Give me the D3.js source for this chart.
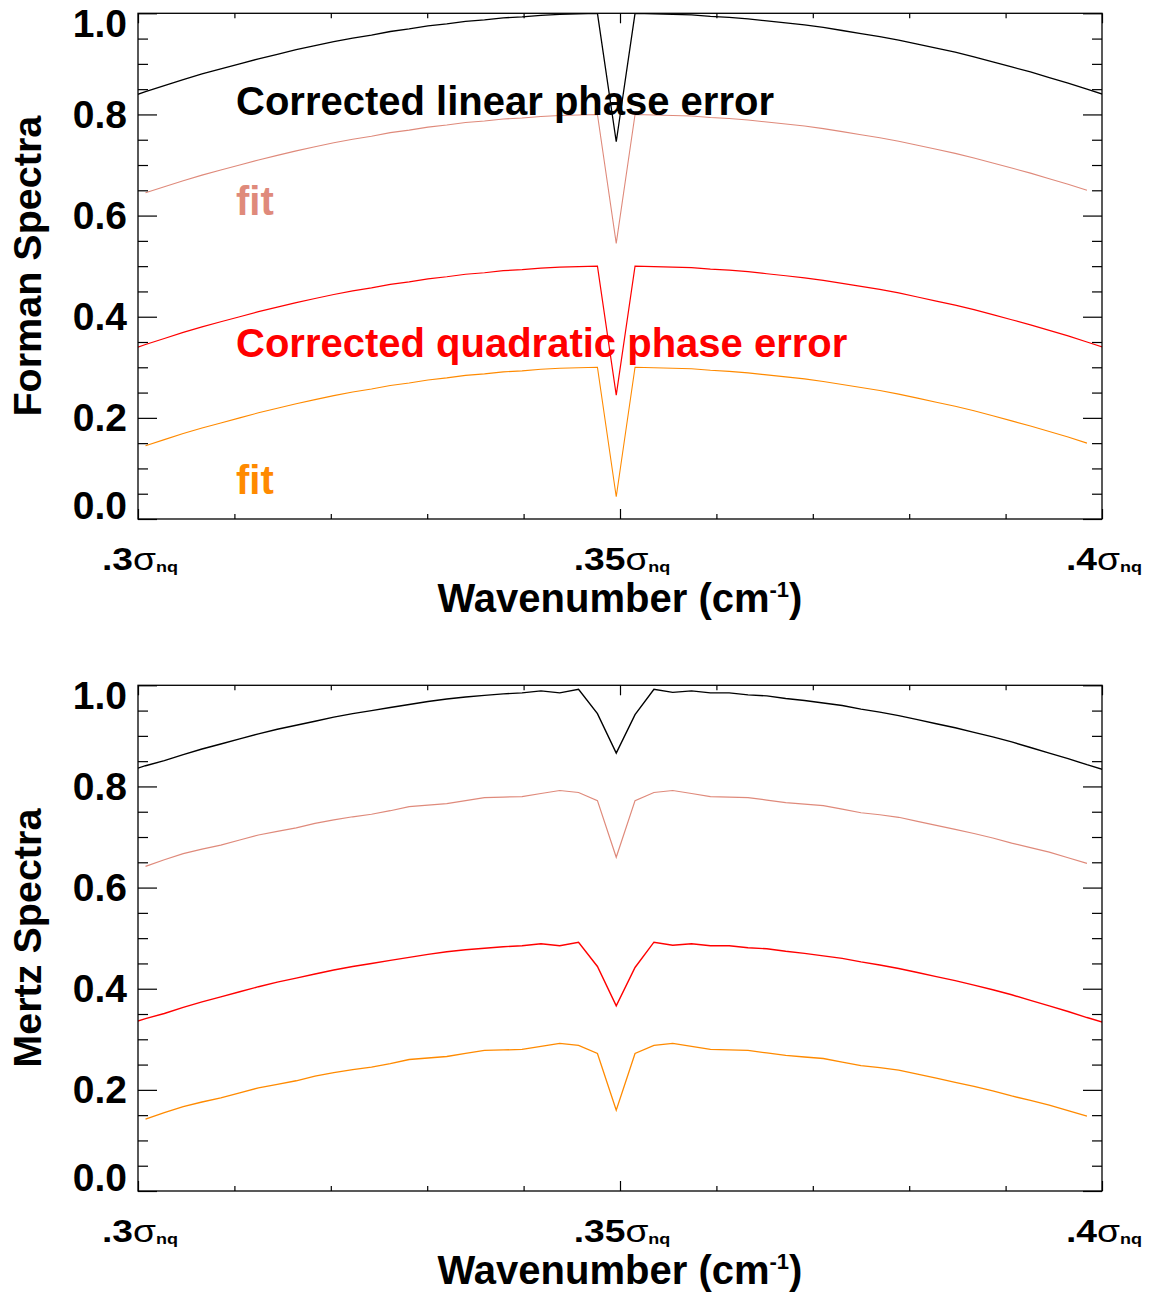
<!DOCTYPE html>
<html>
<head>
<meta charset="utf-8">
<script src="https://cdn.jsdelivr.net/npm/d3@7"></script>
<style>
  body { margin: 0; background: #fff; }
  svg { display: block; }
  text { font-family: "Liberation Sans", Arial, Helvetica, sans-serif; font-weight: bold; }
</style>
</head>
<body>
<svg id="chart" width="1155" height="1294"></svg>
<script>
// Spectral grid, in units of the Nyquist wavenumber (bins 153..205 of 512)
const wavenumber = [0.29883,0.30078,0.30273,0.30469,0.30664,0.30859,0.31055,0.3125,0.31445,0.31641,
  0.31836,0.32031,0.32227,0.32422,0.32617,0.32813,0.33008,0.33203,0.33398,0.33594,
  0.33789,0.33984,0.3418,0.34375,0.3457,0.34766,0.34961,0.35156,0.35352,0.35547,
  0.35742,0.35938,0.36133,0.36328,0.36523,0.36719,0.36914,0.37109,0.37305,0.375,
  0.37695,0.37891,0.38086,0.38281,0.38477,0.38672,0.38867,0.39063,0.39258,0.39453,
  0.39648,0.39844,0.40039];
// fits cover bins 154..204
const fitWavenumber = wavenumber.slice(1, 52);

// Forman method, corrected linear phase error (and its fit, offset down)
const formanLinear = [0.832,0.845,0.857,0.869,0.880,0.890,0.900,0.910,0.919,0.928,
  0.936,0.944,0.951,0.957,0.964,0.969,0.975,0.979,0.984,0.987,
  0.991,0.993,0.996,0.998,0.999,1.000,0.746,1.000,0.999,0.998,
  0.997,0.994,0.992,0.989,0.985,0.981,0.977,0.972,0.966,0.960,
  0.954,0.947,0.939,0.931,0.923,0.914,0.904,0.894,0.884,0.873,
  0.862,0.850,0.838];
const formanLinearFit = [0.645,0.657,0.669,0.680,0.690,0.700,0.710,0.719,0.728,0.736,
  0.744,0.751,0.757,0.764,0.769,0.775,0.779,0.784,0.787,0.791,
  0.793,0.796,0.798,0.799,0.800,0.545,0.800,0.799,0.798,0.797,
  0.794,0.792,0.789,0.785,0.781,0.777,0.772,0.766,0.760,0.754,
  0.747,0.739,0.731,0.723,0.714,0.704,0.694,0.684,0.673,0.662,
  0.650];
// Forman method, corrected quadratic phase error (and its fit)
const formanQuadratic = [0.332,0.345,0.357,0.369,0.380,0.390,0.400,0.410,0.419,0.428,
  0.436,0.444,0.451,0.457,0.464,0.469,0.475,0.479,0.484,0.487,
  0.491,0.493,0.496,0.498,0.499,0.500,0.245,0.500,0.499,0.498,
  0.497,0.494,0.492,0.489,0.485,0.481,0.477,0.472,0.466,0.460,
  0.454,0.447,0.439,0.431,0.423,0.414,0.404,0.394,0.384,0.373,
  0.362,0.350,0.338];
const formanQuadraticFit = [0.145,0.157,0.169,0.180,0.190,0.200,0.210,0.219,0.228,0.236,
  0.244,0.251,0.257,0.264,0.269,0.275,0.279,0.284,0.287,0.291,
  0.293,0.296,0.298,0.299,0.300,0.044,0.300,0.299,0.298,0.297,
  0.294,0.292,0.289,0.285,0.281,0.277,0.272,0.266,0.260,0.254,
  0.247,0.239,0.231,0.223,0.214,0.204,0.194,0.184,0.173,0.162,
  0.150];

// Mertz method, same four curves
const mertzLinear = [0.829,0.841,0.851,0.863,0.874,0.884,0.894,0.904,0.913,0.921,
  0.929,0.937,0.944,0.950,0.956,0.962,0.968,0.973,0.977,0.980,
  0.983,0.985,0.989,0.985,0.992,0.944,0.866,0.942,0.992,0.986,
  0.989,0.985,0.985,0.981,0.979,0.974,0.970,0.965,0.960,0.953,
  0.947,0.940,0.932,0.924,0.916,0.907,0.898,0.888,0.877,0.866,
  0.855,0.843,0.832];
const mertzLinearFit = [0.642,0.655,0.667,0.676,0.684,0.694,0.704,0.711,0.718,0.727,
  0.734,0.740,0.745,0.752,0.760,0.763,0.766,0.772,0.778,0.779,
  0.780,0.786,0.792,0.788,0.772,0.660,0.772,0.788,0.792,0.786,
  0.780,0.779,0.778,0.773,0.768,0.765,0.762,0.755,0.748,0.744,
  0.739,0.731,0.723,0.715,0.707,0.698,0.688,0.679,0.670,0.659,
  0.648];
const mertzQuadratic = [0.329,0.341,0.351,0.363,0.374,0.384,0.394,0.404,0.413,0.421,
  0.429,0.437,0.444,0.450,0.456,0.462,0.468,0.473,0.477,0.480,
  0.483,0.485,0.489,0.485,0.492,0.444,0.366,0.442,0.492,0.486,
  0.489,0.485,0.485,0.481,0.479,0.474,0.470,0.465,0.460,0.453,
  0.447,0.440,0.432,0.424,0.416,0.407,0.398,0.388,0.377,0.366,
  0.355,0.343,0.332];
const mertzQuadraticFit = [0.142,0.155,0.167,0.176,0.184,0.194,0.204,0.211,0.218,0.227,
  0.234,0.240,0.245,0.252,0.260,0.263,0.266,0.272,0.278,0.279,
  0.280,0.286,0.292,0.288,0.272,0.160,0.272,0.288,0.292,0.286,
  0.280,0.279,0.278,0.273,0.268,0.265,0.262,0.255,0.248,0.244,
  0.239,0.231,0.223,0.215,0.207,0.198,0.188,0.179,0.170,0.159,
  0.148];

const yTickValues = [0, 0.2, 0.4, 0.6, 0.8, 1.0];
const yTickLabels = ["0.0", "0.2", "0.4", "0.6", "0.8", "1.0"];
const xTickValues = [0.3, 0.35, 0.4];
const xTickLabels = [".3", ".35", ".4"];

const COLORS = { data: "#000000", fit: "#DF8A7B", quad: "#FF0000", quadFit: "#FF8A00" };

const svg = d3.select("#chart");
const plotLeft = 138, plotRight = 1102, plotH = 505.7;
const x = d3.scaleLinear().domain([0.3, 0.4]).range([plotLeft, plotRight]);

const yMinor = d3.range(0, 1.0001, 0.05).filter(v => Math.abs(v * 5 - Math.round(v * 5)) > 1e-6);
const xMinor = d3.range(0.3, 0.40001, 0.01).filter(v => Math.abs(v * 20 - Math.round(v * 20)) > 1e-6);

function drawPanel(top, id, yTitle, curves, notes) {
  const bottom = top + plotH;
  const y = d3.scaleLinear().domain([0, 1]).range([bottom, top]);
  const g = svg.append("g");

  g.append("clipPath").attr("id", id).append("rect")
    .attr("x", plotLeft).attr("y", top).attr("width", plotRight - plotLeft).attr("height", plotH);

  // curves
  const line = d3.line().x(d => x(d[0])).y(d => y(d[1]));
  curves.forEach(c => {
    g.append("path")
      .datum(d3.zip(c.x, c.v))
      .attr("clip-path", `url(#${id})`)
      .attr("fill", "none")
      .attr("stroke", c.color)
      .attr("stroke-width", c.width)
      .attr("stroke-linejoin", "miter")
      .attr("d", line);
  });

  // inward ticks on all four sides
  const axes = [
    [d3.axisLeft(y), plotLeft, 0, yTickValues, 19],
    [d3.axisLeft(y), plotLeft, 0, yMinor, 10],
    [d3.axisRight(y), plotRight, 0, yTickValues, 19],
    [d3.axisRight(y), plotRight, 0, yMinor, 10],
    [d3.axisBottom(x), 0, bottom, xTickValues, 10],
    [d3.axisBottom(x), 0, bottom, xMinor, 5],
    [d3.axisTop(x), 0, top, xTickValues, 10],
    [d3.axisTop(x), 0, top, xMinor, 5]
  ];
  axes.forEach(([ax, tx, ty, vals, len]) => {
    const a = g.append("g").attr("transform", `translate(${tx},${ty})`)
      .call(ax.tickValues(vals).tickSize(-len).tickSizeOuter(0).tickFormat(""));
    a.select(".domain").remove();
    a.selectAll("line").attr("stroke", "#000").attr("stroke-width", 1.2);
  });

  g.append("rect").attr("x", plotLeft).attr("y", top)
    .attr("width", plotRight - plotLeft).attr("height", plotH)
    .attr("fill", "none").attr("stroke", "#000").attr("stroke-width", 1.3);

  // y tick labels (end labels pulled inside the frame)
  yTickValues.forEach((v, i) => {
    let base = y(v) + 13.5;
    if (i === yTickValues.length - 1) base = top + 23.5;
    if (i === 0) base = bottom - 0.5;
    g.append("text").attr("x", 127).attr("y", base)
      .attr("text-anchor", "end").attr("font-size", 39).text(yTickLabels[i]);
  });

  // x tick labels: value followed by sigma with "nq" subscript
  xTickValues.forEach((v, i) => {
    const t = g.append("text")
      .attr("transform", `translate(${x(v) + 2},${bottom + 51}) scale(1.2,1)`)
      .attr("text-anchor", "middle").attr("font-size", 31);
    t.append("tspan").text(xTickLabels[i]);
    t.append("tspan").attr("font-weight", "normal").text("σ");
    t.append("tspan").attr("font-size", 15).attr("dy", 2).text("nq");
  });

  // axis titles
  const xt = g.append("text").attr("x", (plotLeft + plotRight) / 2).attr("y", bottom + 93)
    .attr("text-anchor", "middle").attr("font-size", 40);
  xt.append("tspan").text("Wavenumber (cm");
  xt.append("tspan").attr("font-size", 22).attr("dy", -15).text("-1");
  xt.append("tspan").attr("dy", 15).text(")");

  g.append("text")
    .attr("transform", `translate(41,${(top + bottom) / 2}) rotate(-90)`)
    .attr("text-anchor", "middle").attr("font-size", 39.5).text(yTitle);

  notes.forEach(n => {
    g.append("text").attr("x", 236).attr("y", n.y).attr("font-size", 40)
      .attr("fill", n.color).text(n.text);
  });
}

drawPanel(13.3, "clipTop", "Forman Spectra", [
  { x: wavenumber, v: formanLinear, color: COLORS.data, width: 1.3 },
  { x: fitWavenumber, v: formanLinearFit, color: COLORS.fit, width: 1.1 },
  { x: wavenumber, v: formanQuadratic, color: COLORS.quad, width: 1.2 },
  { x: fitWavenumber, v: formanQuadraticFit, color: COLORS.quadFit, width: 1.1 }
], [
  { text: "Corrected linear phase error", y: 115, color: COLORS.data },
  { text: "fit", y: 215, color: COLORS.fit },
  { text: "Corrected quadratic phase error", y: 357, color: COLORS.quad },
  { text: "fit", y: 494, color: COLORS.quadFit }
]);

drawPanel(685.3, "clipBottom", "Mertz Spectra", [
  { x: wavenumber, v: mertzLinear, color: COLORS.data, width: 1.4 },
  { x: fitWavenumber, v: mertzLinearFit, color: COLORS.fit, width: 1.2 },
  { x: wavenumber, v: mertzQuadratic, color: COLORS.quad, width: 1.4 },
  { x: fitWavenumber, v: mertzQuadraticFit, color: COLORS.quadFit, width: 1.3 }
], []);
</script>
</body>
</html>
